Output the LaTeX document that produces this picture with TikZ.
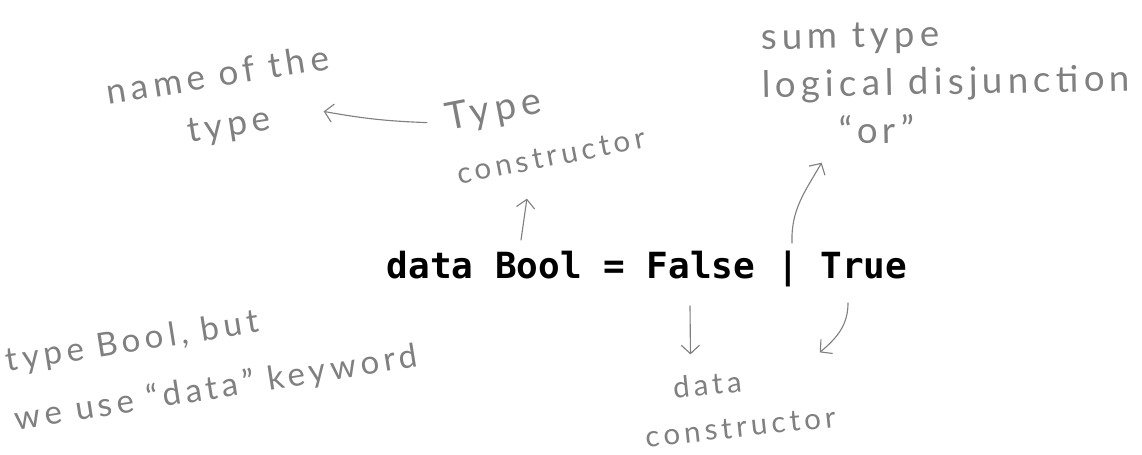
\documentclass[tikz,border=0pt]{standalone}
\usepackage{fontspec}
\setmainfont{Lato}
\newfontfamily\codefont{DejaVu Sans Mono}
\newfontfamily\handfont{Lato}[LetterSpace=14]
\usetikzlibrary{arrows.meta,positioning}
\definecolor{pencil}{RGB}{128,128,128}

\begin{document}
\begin{tikzpicture}[x=0.025cm, y=-0.025cm, line join=round, line cap=round,
  >={Straight Barb[length=6pt,width=13pt]},
  note/.style 2 args={text=pencil, font=\handfont\fontsize{#1}{#2}\selectfont, align=left, inner sep=0pt},
  pen/.style={->, draw=pencil, line width=0.8pt}]
\useasboundingbox (0,0) rectangle (1142,454);
% the code line
\node[inner sep=0pt] (code) at (647,269) {\codefont\bfseries\fontsize{25.6}{30}\selectfont data Bool = False | True};
% arrow tails on the code line
\coordinate (kwtop) at (521,240);
\coordinate (bartop) at (792,243);
\coordinate (falsebot) at (690,306);
\coordinate (truebot) at (848,303);
% pencil notes
\node[note={25}{36}, rotate=9] (name) at (222,102) {name of the\\\hspace*{2.1em}type};
\node[note={21}{30}, rotate=11] (tc) at (545,126) {{\fontsize{27}{30}\selectfont Type}\\[9pt]constructor};
\node[note={26}{34}, rotate=1] (sum) at (946,82) {sum type\\logical disjunction\\\hspace*{2.1em}“or”};
\node[note={23.5}{42}, rotate=9] (kw) at (212,360) {type Bool, but\\we use “data” keyword};
\node[note={21}{32}, rotate=6] (dc) at (738,404) {\hspace*{1.1em}data\\constructor};
% pencil arrows
\draw[pen] (kwtop) -- ([shift={(-26,32)}]tc.south);
\draw[pen] ([shift={(-16,19)}]tc.north west) to[bend left=4] ([shift={(-16,-14)}]name.south east);
\draw[pen] (bartop) to[out=92,in=-120] ([shift={(59,17)}]sum.south west);
\draw[pen] (falsebot) -- ([shift={(-44,-16)}]dc.north);
\draw[pen] (truebot) to[out=-90,in=40] ([shift={(-10,-8)}]dc.north east);
\end{tikzpicture}
\end{document}
